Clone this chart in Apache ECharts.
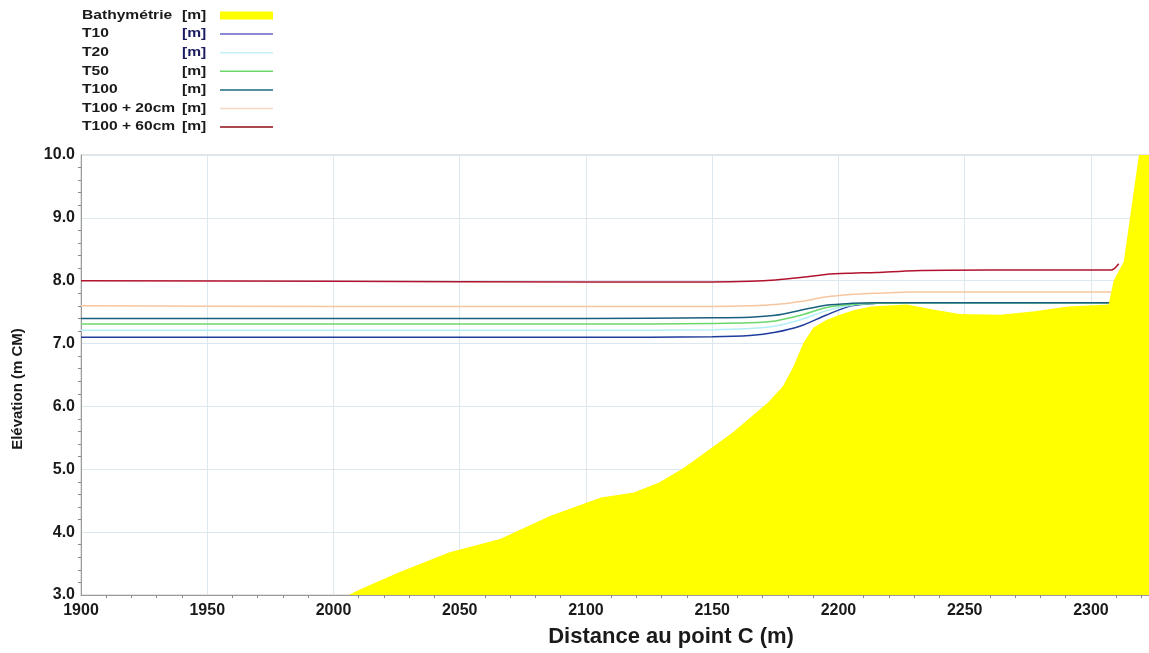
<!DOCTYPE html>
<html>
<head>
<meta charset="utf-8">
<script src="https://cdn.jsdelivr.net/npm/echarts@6/dist/echarts.min.js"></script>
<style>html,body{margin:0;padding:0;background:#fff}#c{width:1149px;height:653px}</style>
</head>
<body>
<div id="c"></div>
<script>
// ---- data ----
const seriesNames = ['Bathymétrie', 'T10', 'T20', 'T50', 'T100', 'T100 + 20cm', 'T100 + 60cm'];
const unitLabel = '[m]';
const bathyDist = [2006, 2010, 2026, 2046, 2066, 2086, 2106, 2119, 2129, 2139, 2158, 2172, 2178, 2182, 2186, 2190, 2195, 2200, 2206, 2213, 2227, 2238, 2248, 2264, 2277, 2291, 2307, 2309, 2313, 2319, 2323];
const bathyElev = [3.0, 3.08, 3.36, 3.68, 3.89, 4.26, 4.55, 4.63, 4.79, 5.03, 5.58, 6.06, 6.32, 6.62, 7.0, 7.25, 7.37, 7.45, 7.53, 7.59, 7.62, 7.54, 7.47, 7.46, 7.51, 7.59, 7.62, 8.0, 8.3, 10.0, 10.0];
const waterDist = [1900, 2000, 2100, 2150, 2165, 2175, 2185, 2195, 2205, 2215, 2230, 2260, 2308];
const t10 = [7.10, 7.10, 7.10, 7.11, 7.13, 7.18, 7.28, 7.45, 7.60, 7.64, 7.65, 7.65, 7.65];
const t20 = [7.21, 7.21, 7.21, 7.22, 7.24, 7.28, 7.38, 7.52, 7.61, 7.64, 7.65, 7.65, 7.65];
const t50 = [7.31, 7.31, 7.31, 7.32, 7.33, 7.36, 7.45, 7.57, 7.62, 7.64, 7.65, 7.65, 7.65];
const t100 = [7.40, 7.40, 7.40, 7.41, 7.42, 7.45, 7.53, 7.61, 7.64, 7.65, 7.65, 7.65, 7.65];
const t100p20 = [7.60, 7.59, 7.59, 7.59, 7.60, 7.62, 7.67, 7.74, 7.78, 7.80, 7.82, 7.82, 7.82];
const redDist = [1900, 2000, 2100, 2150, 2165, 2175, 2185, 2195, 2205, 2215, 2230, 2260, 2308, 2311];
const t100p60 = [8.00, 7.99, 7.98, 7.98, 7.99, 8.01, 8.05, 8.10, 8.12, 8.13, 8.16, 8.17, 8.17, 8.27];
const xTicks = [1900, 1950, 2000, 2050, 2100, 2150, 2200, 2250, 2300];
const yTicks = [3.0, 4.0, 5.0, 6.0, 7.0, 8.0, 9.0, 10.0];

// ---- build ----
const pair = (xs, ys) => xs.map((x, i) => [x, ys[i]]);
const colors = ['#ffff00', '#1e3c9c', '#b4eef6', '#6cd86c', '#19607e', '#f6c6a0', '#b3122e'];
const legendColors = ['#ffff00', '#6262c8', '#c4f2f8', '#6cd86c', '#1a6a82', '#f8d6c4', '#8e0c14'];
const lineData = [pair(waterDist, t10), pair(waterDist, t20), pair(waterDist, t50), pair(waterDist, t100), pair(waterDist, t100p20), pair(redDist, t100p60)];
const FONT = '"Liberation Sans", Arial, sans-serif';

const series = [];
lineData.forEach((d, i) => {
  series.push({
    name: seriesNames[i + 1], type: 'line', data: d, symbol: 'none', smooth: 0.3,
    lineStyle: { color: colors[i + 1], width: 1.5 }, itemStyle: { color: legendColors[i + 1] },
    z: 2, animation: false
  });
});
series.push({
  name: seriesNames[0], type: 'line', data: pair(bathyDist, bathyElev), symbol: 'none',
  lineStyle: { width: 0, color: colors[0] }, itemStyle: { color: colors[0] },
  areaStyle: { color: colors[0], opacity: 1, origin: 'start' }, z: 3, animation: false
});

// legend drawn as graphic rows (text + unit + sample)
const graphic = [];
seriesNames.forEach((n, i) => {
  const y = 15.5 + i * 18.6;
  const ts = (txt, fill) => ({ text: txt, fontSize: 12, fontWeight: 'bold', fontFamily: 'Liberation Sans', fill: fill, verticalAlign: 'middle', align: 'left' });
  graphic.push({ type: 'text', x: 82, y: y, scaleX: 1.3, style: ts(n, '#1a1a1a') });
  graphic.push({ type: 'text', x: 182, y: y, scaleX: 1.3, style: ts(unitLabel, (i === 1 || i === 2) ? '#1c1c60' : '#1a1a1a') });
  if (i === 0) {
    graphic.push({ type: 'rect', shape: { x: 220, y: y - 4, width: 53, height: 8 }, style: { fill: legendColors[0] } });
  } else {
    graphic.push({ type: 'line', shape: { x1: 220, y1: y, x2: 273, y2: y }, style: { stroke: legendColors[i], lineWidth: 1.5 } });
  }
});

const chart = echarts.init(document.getElementById('c'));
chart.setOption({
  animation: false,
  backgroundColor: '#fff',
  graphic: graphic,
  grid: { left: 81, right: 0, top: 155, bottom: 57, show: true, borderColor: '#c8c8c8', borderWidth: 1 },
  xAxis: {
    type: 'value', min: xTicks[0], max: 2323, interval: 50,
    name: 'Distance au point C (m)', nameLocation: 'middle', nameGap: 31,
    nameTextStyle: { fontSize: 22, fontWeight: 'bold', fontFamily: FONT, color: '#1a1a1a', padding: [0, 0, 0, 112] },
    axisLine: { show: true, lineStyle: { color: '#9a9a9a' } },
    axisTick: { show: false },
    minorTick: { show: true, splitNumber: 5, length: 3, lineStyle: { color: '#888' } },
    axisLabel: { showMaxLabel: false, margin: 8, fontSize: 16, fontWeight: 'bold', fontFamily: FONT, color: '#1a1a1a',
      formatter: v => xTicks.indexOf(v) >= 0 ? String(v) : '' },
    splitLine: { show: true, lineStyle: { color: '#dce8ee', width: 1 } }
  },
  yAxis: {
    type: 'value', min: yTicks[0], max: yTicks[yTicks.length - 1], interval: 1,
    name: 'Elévation (m CM)', nameLocation: 'middle', nameGap: 56,
    nameTextStyle: { fontSize: 15, fontWeight: 'bold', fontFamily: FONT, color: '#1a1a1a', padding: [0, 28, 0, 0] },
    axisLine: { show: true, lineStyle: { color: '#9a9a9a' } },
    axisTick: { show: false },
    minorTick: { show: true, splitNumber: 5, length: 3, lineStyle: { color: '#888' } },
    axisLabel: { margin: 6, fontSize: 16, fontWeight: 'bold', fontFamily: FONT, color: '#1a1a1a', formatter: v => v.toFixed(1) },
    splitLine: { show: true, lineStyle: { color: '#dce8ee', width: 1 } }
  },
  series: series
});
</script>
</body>
</html>
